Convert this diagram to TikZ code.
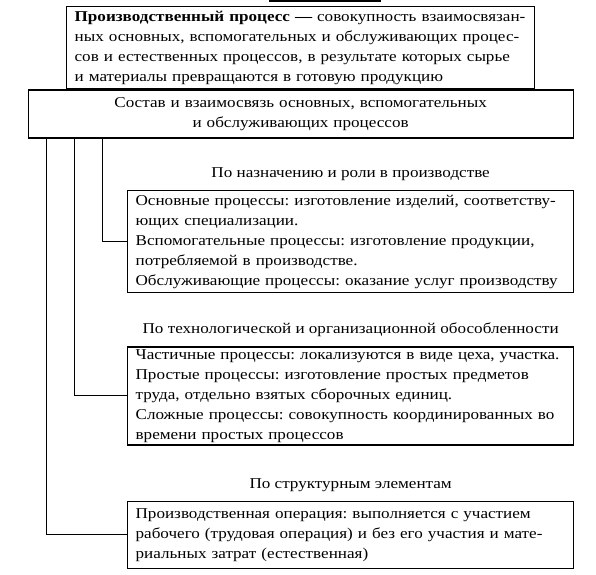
\documentclass[tikz,border=0pt]{standalone}
\usepackage{fontspec}
\setmainfont[FakeStretch=1.14]{Liberation Serif}
\usetikzlibrary{positioning,calc}
\frenchspacing

\begin{document}
\begin{tikzpicture}[
  x=1pt, y=-1pt,
  font=\fontsize{15}{20}\selectfont,
  every node/.style={align=left},
  %% ─── styles ─────────────────────────────────────────────
  defbox/.style={
    draw=black, fill=white, line width=1.3pt,
    inner xsep=8pt, inner ysep=1pt,
    text width=452pt, minimum height=82pt},
  groupbox/.style={
    draw=black, fill=white, line width=1.3pt, align=center,
    inner xsep=8pt, inner ysep=1pt,
    text width=529pt, minimum height=48pt},
  classbox/.style={
    draw=black, fill=white, line width=1.3pt,
    inner xsep=8pt, inner ysep=1pt,
    text width=430pt},
  heading/.style={inner sep=0pt, align=center},
  %% ─── connectors ─────────────────────────────────────────
  link/.style={draw=black, line width=1pt}
]
  \useasboundingbox (0,0) rectangle (596,574);

  %% ═══════════════════════════════════════════════════════
  %%  top: definition + composition
  %% ═══════════════════════════════════════════════════════
  \draw[line width=2pt] (269,1) -- (381,1);
  \node[defbox, anchor=north west] (proc) at (66,6)
    {\textbf{Производственный процесс —} совокупность взаимосвязан-\\
     ных основных, вспомогательных и обслуживающих процес-\\
     сов и естественных процессов, в результате которых сырье\\
     и материалы превращаются в готовую продукцию};
  \node[groupbox, below=0pt of proc] (comp)
    {Состав и взаимосвязь основных, вспомогательных\\
     и обслуживающих процессов};

  %% ═══════════════════════════════════════════════════════
  %%  classification boxes
  %% ═══════════════════════════════════════════════════════
  \node[classbox, minimum height=102pt, anchor=north west] (role) at (127,190)
    {Основные процессы: изготовление изделий, соответству-\\
     ющих специализации.\\
     Вспомогательные процессы: изготовление продукции,\\
     потребляемой в производстве.\\
     Обслуживающие процессы: оказание услуг производству};
  \node[heading, above=9pt of role] (roletitle)
    {По назначению и роли в производстве};

  \node[classbox, minimum height=98pt, below=53pt of role.south west, anchor=north west] (tech)
    {Частичные процессы: локализуются в виде цеха, участка.\\
     Простые процессы: изготовление простых предметов\\
     труда, отдельно взятых сборочных единиц.\\
     Сложные процессы: совокупность координированных во\\
     времени простых процессов};
  \node[heading, above=9pt of tech] (techtitle)
    {По технологической и организационной обособленности};

  \node[classbox, minimum height=67pt, below=55pt of tech.south west, anchor=north west] (struct)
    {Производственная операция: выполняется с участием\\
     рабочего (трудовая операция) и без его участия и мате-\\
     риальных затрат (естественная)};
  \node[heading, above=9pt of struct] (structtitle)
    {По структурным элементам};

  %% ─── routing ────────────────────────────────────────────
  \draw[link] ([xshift=75pt]comp.south west) |- (role.west);
  \draw[link] ([xshift=47pt]comp.south west) |- (tech.west);
  \draw[link] ([xshift=19pt]comp.south west) |- (struct.west);

\end{tikzpicture}
\end{document}
